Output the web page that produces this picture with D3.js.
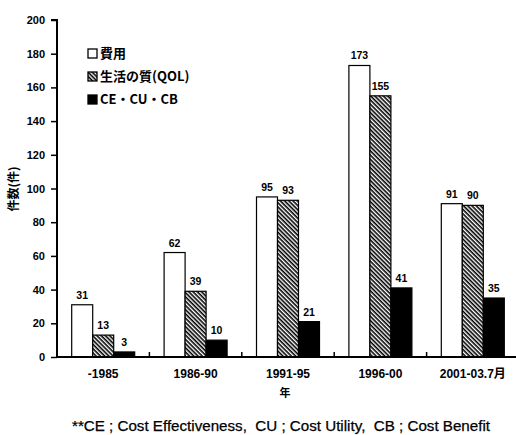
<!DOCTYPE html>
<html><head><meta charset="utf-8">
<script src="https://cdn.jsdelivr.net/npm/d3@7"></script>
<style>
body{margin:0;background:#fff;}
text{font-family:"Liberation Sans",Arial,"Noto Sans CJK JP",sans-serif;}
</style></head>
<body>
<svg id="chart" width="516" height="435"></svg>
<script>
const categories = ["-1985","1986-90","1991-95","1996-00","2001-03.7月"];
const seriesNames = ["費用","生活の質(QOL)","CE・CU・CB"];
const cost = [31,62,95,173,91];
const qol = [13,39,93,155,90];
const ce = [3,10,21,41,35];
const yTicks = [0,20,40,60,80,100,120,140,160,180,200];
const seriesValues = [cost, qol, ce];

const svg = d3.select("#chart");
const defs = svg.append("defs");
const pat = defs.append("pattern").attr("id","hatch").attr("patternUnits","userSpaceOnUse")
  .attr("width",3).attr("height",3).attr("patternTransform","rotate(45)");
pat.append("rect").attr("width",3).attr("height",3).attr("fill","#fff");
pat.append("rect").attr("width",3).attr("height",1.6).attr("fill","#000");

const fills = ["#fff","url(#hatch)","#000"];

const x = d3.scaleBand().domain(categories).range([57,519]);
const y = d3.scaleLinear().domain([0,200]).range([357,20]);
const barW = 21;

// y axis
const yAxis = d3.axisLeft(y).tickValues(yTicks).tickSize(6).tickPadding(6).tickFormat(d3.format("d"));
const gy = svg.append("g").attr("transform","translate(57,0)").call(yAxis);
gy.select(".domain").attr("stroke","#000").attr("stroke-width",2).attr("d","M-6,20H0V358");
gy.selectAll(".tick line").attr("stroke","#000").attr("stroke-width",1.5);
gy.selectAll(".tick text").attr("font-size",11).attr("font-weight","bold").attr("fill","#000");

// bars
categories.forEach((c,i)=>{
  const cx = x(c) + x.bandwidth()/2;
  seriesValues.forEach((vals,s)=>{
    const v = vals[i];
    const bx = cx - 1.5*barW + s*barW;
    svg.append("rect").attr("x",bx).attr("y",y(v)).attr("width",barW).attr("height",y(0)-y(v))
      .attr("fill",fills[s]).attr("stroke","#000").attr("stroke-width",1.2);
    svg.append("text").attr("x",bx+barW/2).attr("y",y(v)-6).attr("text-anchor","middle")
      .attr("font-size",10.5).attr("font-weight","bold").text(v);
  });
});

// x axis
const xAxis = d3.axisBottom(x).tickSize(0).tickPadding(12);
const gx = svg.append("g").attr("transform","translate(0,357)").call(xAxis);
gx.select(".domain").attr("stroke","#000").attr("stroke-width",2).attr("d","M57,0H516");
gx.selectAll(".tick text").attr("font-size",12).attr("font-weight","bold").attr("fill","#000")
  .style("font-family","'Liberation Sans','Noto Sans CJK JP',sans-serif");
// category separator ticks
categories.slice(1).forEach(c=>{
  svg.append("line").attr("x1",x(c)).attr("x2",x(c)).attr("y1",352).attr("y2",357)
    .attr("stroke","#000").attr("stroke-width",1.5);
});

// axis titles
svg.append("text").attr("x",285).attr("y",397).attr("text-anchor","middle")
  .attr("font-size",11).attr("font-weight","bold").style("font-family","'Noto Sans CJK JP',sans-serif").text("年");
svg.append("text").attr("transform","translate(18,189) rotate(-90)").attr("text-anchor","middle")
  .attr("font-size",12).attr("font-weight","bold").style("font-family","'Noto Sans CJK JP',sans-serif").text("件数(件)");

// legend
seriesNames.forEach((n,i)=>{
  const ly = 53 + i*23;
  svg.append("rect").attr("x",88).attr("y",ly-4).attr("width",9).attr("height",9)
    .attr("fill",fills[i]).attr("stroke","#000").attr("stroke-width",1.3);
  svg.append("text").attr("x",100).attr("y",ly+5).attr("font-size",13).attr("font-weight","bold")
    .style("font-family","'Noto Sans CJK JP',sans-serif").text(n);
});

// footnote
svg.append("text").attr("x",72).attr("y",431).attr("font-size",14.5)
  .attr("textLength",418).attr("lengthAdjust","spacingAndGlyphs")
  .attr("stroke","#000").attr("stroke-width",0.25)
  .text("**CE ; Cost Effectiveness,  CU ; Cost Utility,  CB ; Cost Benefit").style("white-space","pre");
</script>
</body></html>
